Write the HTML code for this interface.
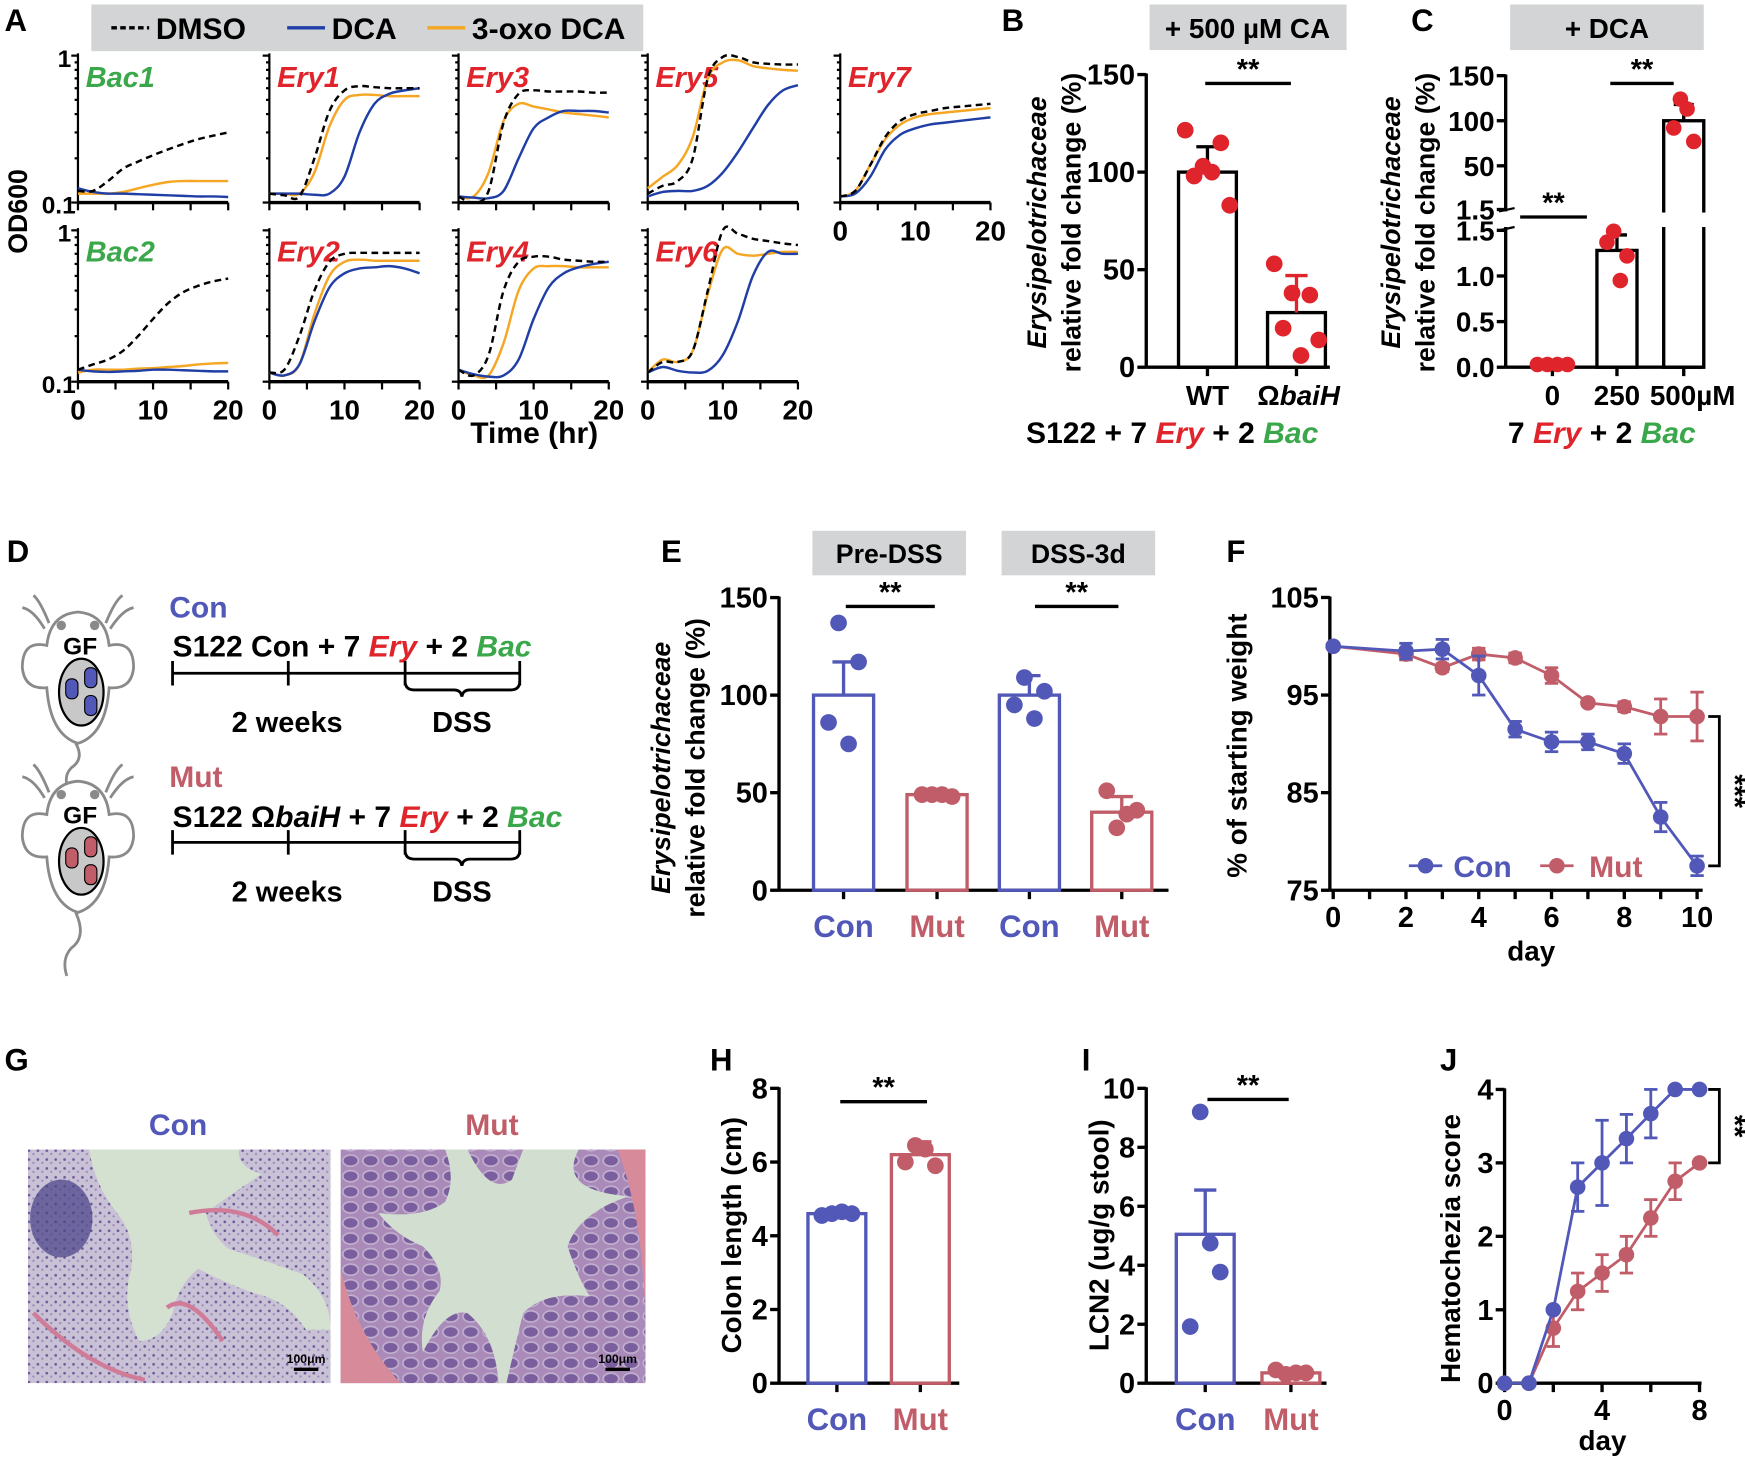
<!DOCTYPE html>
<html><head><meta charset="utf-8"><style>
html,body{margin:0;padding:0;background:#fff;}
svg{display:block;}
text{font-family:"Liberation Sans",Arial,sans-serif;font-weight:bold;}
</style></head><body>
<svg id="fig" width="1745" height="1460" viewBox="0 0 1568 1312" xmlns="http://www.w3.org/2000/svg">
<g font-size="28">
<text x="4" y="28">A</text>
<text x="900" y="28">B</text>
<text x="1268" y="28">C</text>
<text x="6" y="505">D</text>
<text x="594" y="505">E</text>
<text x="1102" y="505">F</text>
<text x="4" y="962">G</text>
<text x="638" y="962">H</text>
<text x="972" y="962">I</text>
<text x="1294" y="962">J</text>
</g>
<g>
<rect x="82" y="4" width="496" height="42" fill="#d3d4d5"/>
<line x1="100" y1="25" x2="134" y2="25" stroke="#000" stroke-width="3" stroke-dasharray="5,3"/>
<text x="140" y="35" font-size="27">DMSO</text>
<line x1="258" y1="25" x2="292" y2="25" stroke="#1f3fa6" stroke-width="3"/>
<text x="298" y="35" font-size="27">DCA</text>
<line x1="384" y1="25" x2="418" y2="25" stroke="#f5a623" stroke-width="3"/>
<text x="424" y="35" font-size="27">3-oxo DCA</text>
</g>
<text transform="translate(24,190) rotate(-90)" text-anchor="middle" font-size="24">OD600</text>
<text x="480" y="398" text-anchor="middle" font-size="27">Time (hr)</text>
<g id="panelA"></g>

<rect x="1033" y="4" width="177" height="41" fill="#d3d4d5"/>
<text x="1121" y="34" text-anchor="middle" font-size="25">+ 500 µM CA</text>
<text transform="translate(940,200) rotate(-90)" text-anchor="middle" font-size="24" font-style="italic">Erysipelotrichaceae</text>
<text transform="translate(971,200) rotate(-90)" text-anchor="middle" font-size="24">relative fold change (%)</text>
<text x="1085" y="364" text-anchor="middle" font-size="25">WT</text>
<text x="1167" y="364" text-anchor="middle" font-size="25">Ω<tspan font-style="italic">baiH</tspan></text>
<text x="922" y="398" font-size="27">S122 + 7 <tspan fill="#e0242b" font-style="italic">Ery</tspan> + 2 <tspan fill="#3aa84a" font-style="italic">Bac</tspan></text>
<g id="panelB"></g>

<rect x="1357" y="4" width="174" height="41" fill="#d3d4d5"/>
<text x="1444" y="34" text-anchor="middle" font-size="25">+ DCA</text>
<text transform="translate(1258,200) rotate(-90)" text-anchor="middle" font-size="24" font-style="italic">Erysipelotrichaceae</text>
<text transform="translate(1289,200) rotate(-90)" text-anchor="middle" font-size="24">relative fold change (%)</text>
<text x="1355" y="398" font-size="27">7 <tspan fill="#e0242b" font-style="italic">Ery</tspan> + 2 <tspan fill="#3aa84a" font-style="italic">Bac</tspan></text>
<g id="panelC"></g>

<g fill="none" stroke="#8a8a8a" stroke-width="2.5">
<path d="M40,565 Q30,548 20,546 M44,560 Q36,540 30,535 M95,560 Q103,540 110,535 M99,565 Q110,548 120,546"/>
<path d="M70,550 Q45,552 42,580 Q20,575 20,600 Q22,620 42,618 Q45,660 70,668 Q95,660 98,618 Q118,620 120,600 Q120,575 98,580 Q95,552 70,550 Z" fill="#fff"/>
<path d="M68,668 Q76,682 64,690 Q58,696 60,705"/>
<circle cx="55" cy="562" r="3" fill="#8a8a8a"/><circle cx="85" cy="562" r="3" fill="#8a8a8a"/>
<ellipse cx="73" cy="622" rx="20" ry="30" fill="#c8c8c8" stroke="#000" stroke-width="2"/>
<rect x="59" y="610" width="11" height="18" rx="5" fill="#5158b8" stroke="#000" stroke-width="1"/>
<rect x="76" y="600" width="11" height="18" rx="5" fill="#5158b8" stroke="#000" stroke-width="1"/>
<rect x="76" y="625" width="11" height="18" rx="5" fill="#5158b8" stroke="#000" stroke-width="1"/>
</g>
<text x="72" y="588" text-anchor="middle" font-size="22" font-weight="normal">GF</text>
<g fill="none" stroke="#8a8a8a" stroke-width="2.5" transform="translate(0,152)">
<path d="M40,565 Q30,548 20,546 M44,560 Q36,540 30,535 M95,560 Q103,540 110,535 M99,565 Q110,548 120,546"/>
<path d="M70,550 Q45,552 42,580 Q20,575 20,600 Q22,620 42,618 Q45,660 70,668 Q95,660 98,618 Q118,620 120,600 Q120,575 98,580 Q95,552 70,550 Z" fill="#fff"/>
<path d="M68,668 Q78,690 64,700 Q55,710 60,725"/>
<circle cx="55" cy="562" r="3" fill="#8a8a8a"/><circle cx="85" cy="562" r="3" fill="#8a8a8a"/>
<ellipse cx="73" cy="622" rx="20" ry="30" fill="#c8c8c8" stroke="#000" stroke-width="2"/>
<rect x="59" y="610" width="11" height="18" rx="5" fill="#c05d68" stroke="#000" stroke-width="1"/>
<rect x="76" y="600" width="11" height="18" rx="5" fill="#c05d68" stroke="#000" stroke-width="1"/>
<rect x="76" y="625" width="11" height="18" rx="5" fill="#c05d68" stroke="#000" stroke-width="1"/>
</g>
<text x="72" y="740" text-anchor="middle" font-size="22" font-weight="normal">GF</text>
<text x="152" y="555" font-size="27" fill="#5158b8">Con</text>
<text x="155" y="590" font-size="27">S122 Con + 7 <tspan fill="#e0242b" font-style="italic">Ery</tspan> + 2 <tspan fill="#3aa84a" font-style="italic">Bac</tspan></text>
<text x="152" y="707" font-size="27" fill="#c05d68">Mut</text>
<text x="155" y="743" font-size="27">S122 Ω<tspan font-style="italic">baiH</tspan> + 7 <tspan fill="#e0242b" font-style="italic">Ery</tspan> + 2 <tspan fill="#3aa84a" font-style="italic">Bac</tspan></text>
<g stroke="#000" stroke-width="2.5" fill="none">
<path d="M155,605 H467 M155,594 V616 M259,594 V616 M364,594 V616 M467,594 V616"/>
<path d="M364,612 Q364,620 372,620 H408 Q414,620 415,626 Q416,620 422,620 H459 Q467,620 467,612"/>
</g>
<text x="258" y="658" text-anchor="middle" font-size="26">2 weeks</text>
<text x="415" y="658" text-anchor="middle" font-size="26">DSS</text>
<g stroke="#000" stroke-width="2.5" fill="none" transform="translate(0,152)">
<path d="M155,605 H467 M155,594 V616 M259,594 V616 M364,594 V616 M467,594 V616"/>
<path d="M364,612 Q364,620 372,620 H408 Q414,620 415,626 Q416,620 422,620 H459 Q467,620 467,612"/>
</g>
<text x="258" y="810" text-anchor="middle" font-size="26">2 weeks</text>
<text x="415" y="810" text-anchor="middle" font-size="26">DSS</text>

<rect x="730" y="477" width="138" height="40" fill="#d3d4d5"/>
<text x="799" y="506" text-anchor="middle" font-size="24">Pre-DSS</text>
<rect x="900" y="477" width="138" height="40" fill="#d3d4d5"/>
<text x="969" y="506" text-anchor="middle" font-size="24">DSS-3d</text>
<text transform="translate(602,690) rotate(-90)" text-anchor="middle" font-size="24" font-style="italic">Erysipelotrichaceae</text>
<text transform="translate(633,690) rotate(-90)" text-anchor="middle" font-size="24">relative fold change (%)</text>
<g id="panelE"></g>

<text transform="translate(1120,670) rotate(-90)" text-anchor="middle" font-size="25">% of starting weight</text>
<text x="1376" y="863" text-anchor="middle" font-size="25">day</text>
<g id="panelF"></g>

<text x="160" y="1020" text-anchor="middle" font-size="27" fill="#5158b8">Con</text>
<text x="442" y="1020" text-anchor="middle" font-size="27" fill="#c05d68">Mut</text>
<defs>
<pattern id="dotsL" width="8" height="8" patternUnits="userSpaceOnUse"><rect width="8" height="8" fill="#c9c1d6"/><circle cx="2" cy="2" r="1.2" fill="#6a5a98"/><circle cx="6" cy="5" r="1" fill="#9a8ab8"/></pattern>
<pattern id="cryptR" width="18" height="14" patternUnits="userSpaceOnUse"><rect width="18" height="14" fill="#a98ab8"/><ellipse cx="9" cy="7" rx="7" ry="5" fill="#7a5e9e" stroke="#c2b0cf" stroke-width="1.5"/></pattern>
<clipPath id="clipL"><rect x="25" y="1033" width="272" height="210"/></clipPath>
<clipPath id="clipR"><rect x="306" y="1033" width="274" height="210"/></clipPath>
</defs>
<g clip-path="url(#clipL)">
<rect x="25" y="1033" width="272" height="210" fill="url(#dotsL)"/>
<path d="M80,1033 L215,1033 Q212,1048 235,1055 Q205,1075 185,1090 Q190,1110 205,1122 Q245,1135 272,1145 Q297,1165 297,1195 L275,1195 Q258,1168 228,1162 Q200,1152 178,1140 Q160,1155 155,1180 Q145,1205 125,1205 Q108,1172 118,1140 Q122,1110 105,1090 Q85,1065 80,1033 Z" fill="#d4e1d1"/>
<ellipse cx="55" cy="1095" rx="28" ry="35" fill="#4e468a" opacity="0.75"/>
<path d="M170,1090 Q220,1080 250,1110 M150,1175 Q170,1160 200,1205 M30,1180 Q80,1230 130,1240" stroke="#d07c98" stroke-width="4" fill="none"/>
</g>
<g clip-path="url(#clipR)">
<rect x="306" y="1033" width="274" height="210" fill="url(#cryptR)"/>
<path d="M306,1140 Q320,1200 360,1243 L306,1243 Z M555,1033 Q580,1100 580,1200 L580,1033 Z" fill="#d78a9a"/>
<path d="M400,1033 L420,1033 Q440,1075 460,1060 L470,1033 L520,1033 Q500,1070 565,1075 Q520,1090 510,1120 Q520,1150 530,1165 Q490,1160 470,1180 Q465,1200 455,1243 L448,1243 Q445,1200 420,1180 Q400,1175 380,1215 Q375,1185 395,1160 Q400,1140 380,1120 Q355,1110 340,1090 Q380,1095 400,1080 Q410,1060 400,1033 Z" fill="#d2ded0"/>
</g>
<g><text x="275" y="1225" text-anchor="middle" font-size="11" font-weight="normal" fill="#000">100μm</text><rect x="264" y="1229" width="22" height="3" fill="#000"/></g>
<g><text x="555" y="1225" text-anchor="middle" font-size="11" font-weight="normal" fill="#000">100μm</text><rect x="544" y="1229" width="22" height="3" fill="#000"/></g>

<text transform="translate(666,1110) rotate(-90)" text-anchor="middle" font-size="25">Colon length (cm)</text>
<text transform="translate(996,1110) rotate(-90)" text-anchor="middle" font-size="25">LCN2 (ug/g stool)</text>
<text transform="translate(1312,1122) rotate(-90)" text-anchor="middle" font-size="25">Hematochezia score</text>
<text x="1440" y="1303" text-anchor="middle" font-size="25">day</text>
<g id="panelH"></g>
<g id="panelI"></g>
<g id="panelJ"></g>
</svg>
<script>
const aTime = [0,2,4,6,8,10,12,14,16,18,20];
const aPanelNames = ['Bac1','Ery1','Ery3','Ery5','Ery7','Bac2','Ery2','Ery4','Ery6'];
const aDMSO = [
 [0.12,0.12,0.14,0.17,0.19,0.21,0.23,0.25,0.27,0.285,0.30],
 [0.115,0.112,0.11,0.2,0.42,0.58,0.62,0.61,0.6,0.6,0.6],
 [0.11,0.1,0.12,0.35,0.55,0.58,0.57,0.57,0.57,0.56,0.56],
 [0.115,0.13,0.14,0.2,0.7,0.98,0.98,0.9,0.88,0.87,0.87],
 [0.11,0.12,0.18,0.28,0.36,0.4,0.42,0.44,0.45,0.46,0.47],
 [0.12,0.13,0.14,0.16,0.2,0.26,0.33,0.39,0.43,0.46,0.48],
 [0.115,0.12,0.2,0.4,0.62,0.7,0.71,0.71,0.71,0.71,0.71],
 [0.12,0.11,0.15,0.4,0.62,0.67,0.67,0.64,0.63,0.62,0.62],
 [0.115,0.135,0.135,0.16,0.4,1.0,0.95,0.88,0.85,0.82,0.8]
];
const aDCA = [
 [0.125,0.118,0.115,0.115,0.114,0.113,0.112,0.111,0.11,0.11,0.109],
 [0.115,0.115,0.115,0.113,0.115,0.15,0.3,0.47,0.55,0.58,0.6],
 [0.11,0.108,0.107,0.12,0.2,0.32,0.38,0.42,0.42,0.42,0.41],
 [0.11,0.118,0.12,0.12,0.13,0.16,0.22,0.32,0.46,0.58,0.63],
 [0.11,0.115,0.15,0.23,0.29,0.32,0.34,0.35,0.36,0.37,0.38],
 [0.12,0.117,0.116,0.117,0.118,0.12,0.12,0.119,0.118,0.117,0.117],
 [0.115,0.11,0.13,0.25,0.42,0.52,0.56,0.57,0.58,0.56,0.52],
 [0.12,0.112,0.108,0.11,0.14,0.26,0.42,0.52,0.57,0.6,0.62],
 [0.115,0.125,0.118,0.115,0.118,0.15,0.25,0.5,0.72,0.7,0.7]
];
const aOxo = [
 [0.115,0.115,0.115,0.118,0.125,0.132,0.138,0.14,0.14,0.14,0.14],
 [0.115,0.115,0.115,0.16,0.33,0.5,0.54,0.54,0.53,0.53,0.53],
 [0.11,0.11,0.16,0.36,0.47,0.45,0.43,0.41,0.4,0.39,0.38],
 [0.125,0.15,0.18,0.28,0.7,0.9,0.93,0.85,0.82,0.8,0.79],
 [0.11,0.12,0.18,0.27,0.34,0.38,0.4,0.41,0.42,0.43,0.44],
 [0.115,0.12,0.12,0.12,0.122,0.123,0.125,0.127,0.13,0.132,0.133],
 [0.115,0.11,0.13,0.28,0.5,0.62,0.64,0.63,0.63,0.63,0.63],
 [0.12,0.11,0.11,0.18,0.4,0.56,0.58,0.58,0.57,0.57,0.57],
 [0.115,0.14,0.135,0.16,0.38,0.75,0.7,0.68,0.7,0.72,0.72]
];
const aXTicks = [0,10,20];
const bGroups = ['WT','ΩbaiH'];
const bMeans = [100,28];
const bErr = [13,19];
const bPoints = [[121.5,98,103,100,115,83],[53,20,38,6,37,14]];
const bTicks = [0,50,100,150];
const cGroups = ['0','250','500µM'];
const cMeans = [0.02,1.28,100];
const cErr = [0,0.17,18];
const cPoints = [[0.03,0.03,0.03,0.03],[1.37,1.49,0.95,1.22],[92,124,113,77]];
const cLowTicks = [0,0.5,1.0,1.5];
const cLowLabels = ['0.0','0.5','1.0','1.5'];
const cHighTicks = [1.5,50,100,150];
const eGroups = ['Con','Mut','Con','Mut'];
const eMeans = [100,49,100,40];
const eErr = [17,0.6,10,8];
const ePoints = [[86,137,75,117],[49,49,49,48],[95,109,88,102],[51,32,39,41]];
const eTicks = [0,50,100,150];
const fDays = [0,2,3,4,5,6,7,8,9,10];
const fCon = [100,99.5,99.7,97,91.5,90.2,90.2,89,82.5,77.5];
const fConErr = [0,0.8,1,2,0.8,1,0.8,1,1.5,1];
const fMut = [100,99.2,97.8,99.2,98.8,97,94.2,93.8,92.8,92.8];
const fMutErr = [0,0.6,0.4,0.6,0.5,0.8,0.3,0.5,1.8,2.5];
const fYTicks = [75,85,95,105];
const fXTicks = [0,2,4,6,8,10];
const hGroups = ['Con','Mut'];
const hMeans = [4.6,6.2];
const hErr = [0.05,0.35];
const hPoints = [[4.55,4.6,4.65,4.6],[6.0,6.45,6.35,5.9]];
const hTicks = [0,2,4,6,8];
const iGroups = ['Con','Mut'];
const iMeans = [5.05,0.35];
const iErr = [1.5,0.07];
const iPoints = [[1.92,9.2,4.75,3.77],[0.45,0.3,0.35,0.35]];
const iTicks = [0,2,4,6,8,10];
const jDays = [0,1,2,3,4,5,6,7,8];
const jCon = [0,0,1,2.67,3,3.33,3.67,4,4];
const jConErr = [0,0,0,0.33,0.58,0.33,0.33,0,0];
const jMut = [0,0,0.75,1.25,1.5,1.75,2.25,2.75,3];
const jMutErr = [0,0,0.25,0.25,0.25,0.25,0.25,0.25,0];
const jYTicks = [0,1,2,3,4];
const jXTicks = [0,4,8];

const NS = 'http://www.w3.org/2000/svg';
const BLUE = '#5158b8', RED = '#c05d68', DOT = '#e0242b';
function mk(tag, attrs, parent, name) {
  const el = document.createElementNS(NS, tag);
  for (const k in attrs) el.setAttribute(k, attrs[k]);
  
  
  parent.appendChild(el);
  return el;
}
function txt(parent, x, y, s, size, anchor, name, fill) {
  const t = mk('text', {x: x, y: y, 'font-size': size, 'text-anchor': anchor || 'middle', fill: fill || '#000'}, parent, name);
  t.textContent = s;
  return t;
}
function smooth(pts) {
  let d = 'M' + pts[0][0] + ',' + pts[0][1];
  for (let i = 0; i < pts.length - 1; i++) {
    const p0 = pts[Math.max(0, i - 1)], p1 = pts[i], p2 = pts[i + 1], p3 = pts[Math.min(pts.length - 1, i + 2)];
    const c1x = p1[0] + (p2[0] - p0[0]) / 6, c1y = p1[1] + (p2[1] - p0[1]) / 6;
    const c2x = p2[0] - (p3[0] - p1[0]) / 6, c2y = p2[1] - (p3[1] - p1[1]) / 6;
    d += ' C' + c1x + ',' + c1y + ' ' + c2x + ',' + c2y + ' ' + p2[0] + ',' + p2[1];
  }
  return d;
}

(function () {
  const g = document.getElementById('panelA');
  const colX = [70, 242, 412, 582, 755, 70, 242, 412, 582];
  const rowTop = [50, 50, 50, 50, 50, 207, 207, 207, 207];
  const rowBot = [182, 182, 182, 182, 182, 343, 343, 343, 343];
  const W = 135;
  aPanelNames.forEach((nm, p) => {
    const x0 = colX[p], yt = rowTop[p], yb = rowBot[p];
    const sx = t => x0 + t / 20 * W;
    const sy = v => yb - (yb - yt) * Math.log10(v / 0.1);
    const sg = mk('g', {}, g, 'subplot-' + nm.toLowerCase());
    mk('line', {x1: x0, y1: yt - 2, x2: x0, y2: yb, stroke: '#000', 'stroke-width': 2}, sg, 'y-axis');
    mk('line', {x1: x0, y1: yb, x2: x0 + W, y2: yb, stroke: '#000', 'stroke-width': 3}, sg, 'x-axis');
    [0.1,0.2,0.3,0.4,0.5,0.6,0.7,0.8,0.9,1].forEach(v => {
      const major = (v === 0.1 || v === 1);
      mk('line', {x1: x0 - (major ? 6 : 3), y1: sy(v), x2: x0, y2: sy(v), stroke: '#000', 'stroke-width': 2}, sg, 'y-tick');
    });
    [0,5,10,15,20].forEach(t => {
      mk('line', {x1: sx(t), y1: yb, x2: sx(t), y2: yb + 7, stroke: '#000', 'stroke-width': 2}, sg, 'x-tick');
    });
    if (p === 0 || p === 5) {
      txt(sg, x0 - 6, yt + 10, '1', 22, 'end', 'y-tick-label');
      txt(sg, x0 - 2, yb + 10, '0.1', 22, 'end', 'y-tick-label');
    }
    if (p >= 4) {
      aXTicks.forEach(t => txt(sg, sx(t), yb + 34, String(t), 25, 'middle', 'x-tick-label'));
    }
    const col = nm.startsWith('Bac') ? '#3aa84a' : '#e0242b';
    const lb = txt(sg, x0 + 7, yt + 28, nm, 26, 'start', 'subplot-title', col);
    lb.setAttribute('font-style', 'italic');
    const series = [[aOxo[p], '#f5a623', 'oxo'], [aDCA[p], '#1f3fa6', 'dca'], [aDMSO[p], '#000', 'dmso']];
    series.forEach(s => {
      const pts = aTime.map((t, i) => [sx(t), sy(s[0][i])]);
      const path = mk('path', {d: smooth(pts), fill: 'none', stroke: s[1], 'stroke-width': 2.2}, sg, 'line-' + s[2] + '-' + nm.toLowerCase());
      if (s[2] === 'dmso') path.setAttribute('stroke-dasharray', '6,4');
    });
  });
})();

function barChart(g, cfg) {
  const sy = cfg.sy;
  mk('line', {x1: cfg.ax, y1: cfg.yTop, x2: cfg.ax, y2: cfg.y0, stroke: '#000', 'stroke-width': 3}, g, 'y-axis');
  mk('line', {x1: cfg.ax, y1: cfg.y0, x2: cfg.xEnd, y2: cfg.y0, stroke: '#000', 'stroke-width': 3}, g, 'x-axis');
  cfg.ticks.forEach(v => {
    mk('line', {x1: cfg.ax - 8, y1: sy(v), x2: cfg.ax, y2: sy(v), stroke: '#000', 'stroke-width': 3}, g, 'y-tick');
    txt(g, cfg.ax - 10, sy(v) + 9, String(v), 26, 'end', 'y-tick-label');
  });
  cfg.means.forEach((m, i) => {
    const cx = cfg.centers[i], col = cfg.colors[i];
    mk('line', {x1: cx, y1: cfg.y0, x2: cx, y2: cfg.y0 + 8, stroke: '#000', 'stroke-width': 3}, g, 'x-tick');
    mk('rect', {x: cx - cfg.bw / 2, y: sy(m), width: cfg.bw, height: cfg.y0 - sy(m), fill: 'none', stroke: col, 'stroke-width': 3}, g, 'bar-' + i);
    const e = cfg.err[i];
    const ec = cfg.errColors ? cfg.errColors[i] : col;
    if (e > 0.001) {
      mk('line', {x1: cx, y1: sy(m), x2: cx, y2: sy(m + e), stroke: ec, 'stroke-width': 3}, g, 'error-bar-' + i);
      mk('line', {x1: cx - 10, y1: sy(m + e), x2: cx + 10, y2: sy(m + e), stroke: ec, 'stroke-width': 3}, g, 'error-cap-' + i);
    }
    const pts = cfg.points[i];
    pts.forEach((v, k) => {
      const off = (k - (pts.length - 1) / 2) * cfg.spread;
      mk('circle', {cx: cx + off, cy: sy(v), r: 7.5, fill: cfg.dotColors[i]}, g, 'point-' + i + '-' + k);
    });
    if (cfg.labels) txt(g, cx, cfg.y0 + 42, cfg.labels[i], 28, 'middle', 'x-label-' + i, col);
  });
}
function sig(g, x1, x2, y, s, name) {
  mk('line', {x1: x1, y1: y, x2: x2, y2: y, stroke: '#000', 'stroke-width': 3}, g, name + '-line');
  txt(g, (x1 + x2) / 2, y - 4, s, 26, 'middle', name + '-stars');
}

(function () {
  const g = document.getElementById('panelB');
  const y0 = 330, k = (330 - 67) / 150;
  barChart(g, {sy: v => y0 - v * k, ax: 1030, y0: y0, yTop: 66, xEnd: 1195, ticks: bTicks,
    means: bMeans, err: bErr, points: bPoints, centers: [1085, 1165], bw: 52,
    colors: ['#000', '#000'], errColors: ['#000', DOT], dotColors: [DOT, DOT], spread: 8});
  sig(g, 1083, 1160, 75, '**', 'significance-b');
})();

(function () {
  const g = document.getElementById('panelC');
  const ax = 1353, y0 = 330;
  const yL = v => y0 - v * 82;
  const yU = v => 149 - (v - 50) * 0.81;
  const sy = v => v > 1.6 ? yU(v) : yL(v);
  mk('line', {x1: ax, y1: y0, x2: ax, y2: 204, stroke: '#000', 'stroke-width': 3}, g, 'y-axis-lower');
  mk('line', {x1: ax, y1: 190, x2: ax, y2: 67, stroke: '#000', 'stroke-width': 3}, g, 'y-axis-upper');
  mk('line', {x1: ax - 6, y1: 190, x2: ax + 8, y2: 187, stroke: '#000', 'stroke-width': 2}, g, 'axis-break');
  mk('line', {x1: ax - 6, y1: 207, x2: ax + 8, y2: 204, stroke: '#000', 'stroke-width': 2}, g, 'axis-break');
  mk('line', {x1: ax, y1: y0, x2: 1530, y2: y0, stroke: '#000', 'stroke-width': 3}, g, 'x-axis');
  cLowTicks.forEach((v, i) => {
    mk('line', {x1: ax - 8, y1: yL(v), x2: ax, y2: yL(v), stroke: '#000', 'stroke-width': 3}, g, 'y-tick');
    txt(g, ax - 10, yL(v) + 9, cLowLabels[i], 25, 'end', 'y-tick-label');
  });
  cHighTicks.forEach(v => {
    mk('line', {x1: ax - 8, y1: yU(v), x2: ax, y2: yU(v), stroke: '#000', 'stroke-width': 3}, g, 'y-tick');
    txt(g, ax - 10, yU(v) + 9, String(v), 25, 'end', 'y-tick-label');
  });
  const centers = [1395, 1453, 1513];
  cMeans.forEach((m, i) => {
    const cx = centers[i];
    mk('line', {x1: cx, y1: y0, x2: cx, y2: y0 + 8, stroke: '#000', 'stroke-width': 3}, g, 'x-tick');
    if (m > 0.1) mk('rect', {x: cx - 18, y: sy(m), width: 36, height: y0 - sy(m), fill: 'none', stroke: '#000', 'stroke-width': 3}, g, 'bar-' + i);
    if (cErr[i] > 0) {
      mk('line', {x1: cx, y1: sy(m), x2: cx, y2: sy(m + cErr[i]), stroke: '#000', 'stroke-width': 3}, g, 'error-bar-' + i);
      mk('line', {x1: cx - 9, y1: sy(m + cErr[i]), x2: cx + 9, y2: sy(m + cErr[i]), stroke: '#000', 'stroke-width': 3}, g, 'error-cap-' + i);
    }
    cPoints[i].forEach((v, k) => {
      const off = (k - 1.5) * (i === 0 ? 9 : 6);
      mk('circle', {cx: cx + off, cy: sy(v), r: 7, fill: DOT}, g, 'point-' + i + '-' + k);
    });
    txt(g, i === 2 ? cx + 8 : cx, 364, cGroups[i], 25, 'middle', 'x-label-' + i);
  });
  mk('rect', {x: centers[2] - 22, y: 191, width: 44, height: 13, fill: '#fff'}, g, 'bar-break-gap');
  sig(g, 1366, 1426, 195, '**', 'significance-c1');
  sig(g, 1447, 1504, 75, '**', 'significance-c2');
})();

(function () {
  const g = document.getElementById('panelE');
  const y0 = 800, k = (800 - 537) / 150;
  barChart(g, {sy: v => y0 - v * k, ax: 700, y0: y0, yTop: 536, xEnd: 1050, ticks: eTicks,
    means: eMeans, err: eErr, points: ePoints, centers: [758, 842, 925, 1008], bw: 54,
    colors: [BLUE, RED, BLUE, RED], dotColors: [BLUE, RED, BLUE, RED], spread: 9, labels: eGroups});
  sig(g, 760, 840, 545, '**', 'significance-e1');
  sig(g, 930, 1005, 545, '**', 'significance-e2');
})();

(function () {
  const g = document.getElementById('panelH');
  const y0 = 1243, k = (1243 - 978) / 8;
  barChart(g, {sy: v => y0 - v * k, ax: 700, y0: y0, yTop: 977, xEnd: 862, ticks: hTicks,
    means: hMeans, err: hErr, points: hPoints, centers: [752, 827], bw: 52,
    colors: [BLUE, RED], dotColors: [BLUE, RED], spread: 9, labels: hGroups});
  sig(g, 755, 833, 990, '**', 'significance-h');
})();

(function () {
  const g = document.getElementById('panelI');
  const y0 = 1243, k = (1243 - 978) / 10;
  barChart(g, {sy: v => y0 - v * k, ax: 1030, y0: y0, yTop: 977, xEnd: 1192, ticks: iTicks,
    means: iMeans, err: iErr, points: iPoints, centers: [1083, 1160], bw: 52,
    colors: [BLUE, RED], dotColors: [BLUE, RED], spread: 9, labels: iGroups});
  sig(g, 1085, 1158, 988, '**', 'significance-i');
})();

function lineChart(g, cfg) {
  const sx = cfg.sx, sy = cfg.sy;
  mk('line', {x1: cfg.ax, y1: cfg.yTop, x2: cfg.ax, y2: cfg.y0, stroke: '#000', 'stroke-width': 3}, g, 'y-axis');
  mk('line', {x1: cfg.ax, y1: cfg.y0, x2: cfg.xEnd, y2: cfg.y0, stroke: '#000', 'stroke-width': 3}, g, 'x-axis');
  cfg.yTicks.forEach(v => {
    mk('line', {x1: cfg.ax - 8, y1: sy(v), x2: cfg.ax, y2: sy(v), stroke: '#000', 'stroke-width': 3}, g, 'y-tick');
    txt(g, cfg.ax - 10, sy(v) + 9, String(v), 26, 'end', 'y-tick-label');
  });
  cfg.minorX.forEach(d => {
    mk('line', {x1: sx(d), y1: cfg.y0, x2: sx(d), y2: cfg.y0 + 8, stroke: '#000', 'stroke-width': 3}, g, 'x-tick');
  });
  cfg.xTicks.forEach(d => txt(g, sx(d), cfg.y0 + 33, String(d), 26, 'middle', 'x-tick-label'));
  cfg.series.forEach(s => {
    const pts = cfg.days.map((d, i) => sx(d) + ',' + sy(s.vals[i])).join(' ');
    mk('polyline', {points: pts, fill: 'none', stroke: s.col, 'stroke-width': 2.5}, g, 'line-' + s.name);
    cfg.days.forEach((d, i) => {
      if (s.err[i] > 0) {
        const a = sy(s.vals[i] - s.err[i]), b = sy(s.vals[i] + s.err[i]);
        mk('line', {x1: sx(d), y1: a, x2: sx(d), y2: b, stroke: s.col, 'stroke-width': 2.5}, g, 'error-bar-' + s.name);
        mk('line', {x1: sx(d) - 6, y1: a, x2: sx(d) + 6, y2: a, stroke: s.col, 'stroke-width': 2.5}, g, 'error-cap-' + s.name);
        mk('line', {x1: sx(d) - 6, y1: b, x2: sx(d) + 6, y2: b, stroke: s.col, 'stroke-width': 2.5}, g, 'error-cap-' + s.name);
      }
      mk('circle', {cx: sx(d), cy: sy(s.vals[i]), r: 7, fill: s.col}, g, 'point-' + s.name + '-' + i);
    });
  });
}

(function () {
  const g = document.getElementById('panelF');
  const sx = d => 1198 + d * 32.7;
  const sy = v => 800 - (v - 75) * 8.77;
  lineChart(g, {sx: sx, sy: sy, ax: 1195, y0: 800, yTop: 536, xEnd: 1530, yTicks: fYTicks,
    xTicks: fXTicks, minorX: [0,1,2,3,4,5,6,7,8,9,10], days: fDays,
    series: [{name: 'mut', vals: fMut, err: fMutErr, col: RED}, {name: 'con', vals: fCon, err: fConErr, col: BLUE}]});
  mk('path', {d: 'M1535,' + sy(fMut[9]) + ' H1545 V' + sy(fCon[9]) + ' H1535', fill: 'none', stroke: '#000', 'stroke-width': 2.5}, g, 'significance-bracket-f');
  const st = txt(g, 0, 0, '***', 26, 'middle', 'significance-f');
  st.setAttribute('transform', 'translate(1550,' + ((sy(fMut[9]) + sy(fCon[9])) / 2) + ') rotate(90)');
  const lg = mk('g', {}, g, 'legend-f');
  mk('line', {x1: 1266, y1: 778, x2: 1296, y2: 778, stroke: BLUE, 'stroke-width': 2.5}, lg, 'legend-con-line');
  mk('circle', {cx: 1281, cy: 778, r: 7, fill: BLUE}, lg, 'legend-con-marker');
  txt(lg, 1306, 788, 'Con', 27, 'start', 'legend-con', BLUE);
  mk('line', {x1: 1384, y1: 778, x2: 1414, y2: 778, stroke: RED, 'stroke-width': 2.5}, lg, 'legend-mut-line');
  mk('circle', {cx: 1399, cy: 778, r: 7, fill: RED}, lg, 'legend-mut-marker');
  txt(lg, 1428, 788, 'Mut', 27, 'start', 'legend-mut', RED);
})();

(function () {
  const g = document.getElementById('panelJ');
  const sx = d => 1352 + d * 21.9;
  const sy = v => 1243 - v * 66;
  lineChart(g, {sx: sx, sy: sy, ax: 1352, y0: 1243, yTop: 978, xEnd: 1529, yTicks: jYTicks,
    xTicks: jXTicks, minorX: [0,2,4,6,8], days: jDays,
    series: [{name: 'mut', vals: jMut, err: jMutErr, col: RED}, {name: 'con', vals: jCon, err: jConErr, col: BLUE}]});
  mk('path', {d: 'M1535,' + sy(jCon[8]) + ' H1545 V' + sy(jMut[8]) + ' H1535', fill: 'none', stroke: '#000', 'stroke-width': 2.5}, g, 'significance-bracket-j');
  const st = txt(g, 0, 0, '**', 26, 'middle', 'significance-j');
  st.setAttribute('transform', 'translate(1550,' + ((sy(jCon[8]) + sy(jMut[8])) / 2) + ') rotate(90)');
})();
</script>
</body></html>
